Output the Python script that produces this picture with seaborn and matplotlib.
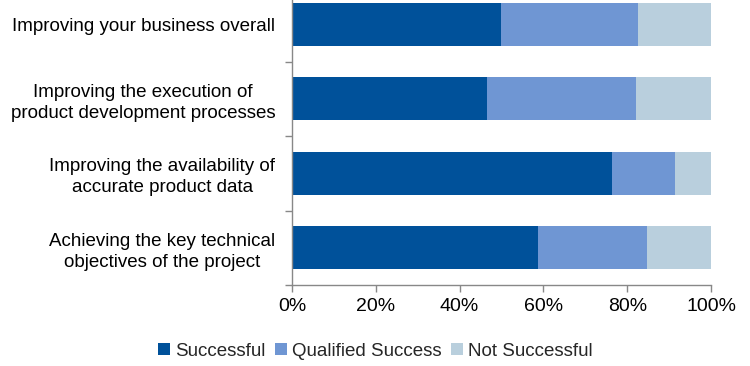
import matplotlib
matplotlib.use("Agg")
import matplotlib.pyplot as plt
import seaborn as sns
import numpy as np
import pandas as pd
from matplotlib.patches import Patch

# datos (porcentajes)
categorias = [
    "Improving your business overall",
    "Improving the execution of\nproduct development processes",
    "Improving the availability of\naccurate product data",
    "Achieving the key technical\nobjectives of the project",
]
exitoso = [49.8, 46.5, 76.4, 58.6]
calificado = [32.8, 35.7, 15.0, 26.1]
no_exitoso = [17.4, 17.8, 8.6, 15.3]

series = ["Successful", "Qualified Success", "Not Successful"]
colores = ["#00519A", "#6F96D3", "#B9CFDD"]

sns.set_theme(style="white")
plt.rcParams["font.family"] = ["Liberation Sans", "DejaVu Sans"]

df = pd.DataFrame({"cat": categorias, "s": exitoso, "q": calificado, "n": no_exitoso})
df["c1"] = df["s"]
df["c2"] = df["s"] + df["q"]
df["c3"] = df["c2"] + df["n"]

fig = plt.figure(figsize=(7.5, 3.66), dpi=100)
ax = fig.add_axes([0.3893, 0.2213, 0.948 - 0.3893, 0.8142])

# barras apiladas: se dibuja del total hacia la primera serie
for col, color in zip(["c3", "c2", "c1"], colores[::-1]):
    sns.barplot(data=df, x=col, y="cat", orient="h", color=color,
                width=0.58, saturation=1, ax=ax, linewidth=0)

ax.set_xlim(0, 100)
ax.set_ylim(3.5, -0.5)
ax.set_xlabel("")
ax.set_ylabel("")
ax.set_xticks([0, 20, 40, 60, 80, 100])
ax.set_xticklabels([f"{v}%" for v in [0, 20, 40, 60, 80, 100]], fontsize=14)
ax.set_yticks(range(len(categorias)))
ax.set_yticklabels(categorias, fontsize=13.5, ha="right", multialignment="center",
                   linespacing=1.3)
ax.tick_params(axis="y", which="major", length=0, pad=12)
ax.set_yticks([-0.5, 0.5, 1.5, 2.5, 3.5], minor=True)
ax.tick_params(axis="y", which="minor", length=5, width=1, color="#888888", direction="out", left=True)
ax.tick_params(axis="x", which="major", length=5, width=1, color="#888888", direction="out", bottom=True, pad=4)
for lab in ax.get_xticklabels() + ax.get_yticklabels():
    lab.set_color("black")

for s in ["top", "right"]:
    ax.spines[s].set_visible(False)
for s in ["left", "bottom"]:
    ax.spines[s].set_color("#888888")
    ax.spines[s].set_linewidth(1)

handles = [Patch(facecolor=c, edgecolor="none") for c in colores]
fig.legend(handles, series, loc="center", bbox_to_anchor=(0.5, 0.04), ncol=3,
           frameon=False, fontsize=13.5, handlelength=0.64, handleheight=0.64,
           handletextpad=0.27, columnspacing=0.5)

fig.savefig("out.png", dpi=100)
